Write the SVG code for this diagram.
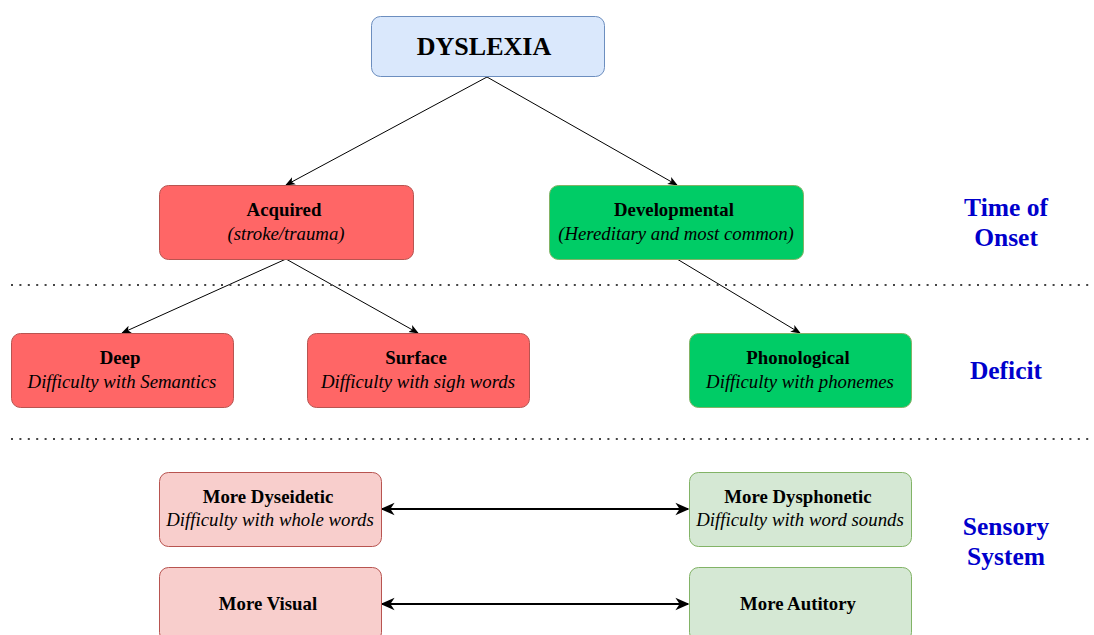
<svg xmlns="http://www.w3.org/2000/svg" width="1094" height="635" viewBox="0 0 1094 635">
<defs>
<style>
.t{font-family:"Liberation Serif","Times New Roman",serif;font-size:18.8px;fill:#000;text-anchor:middle}
.b{font-weight:bold}
.i{font-style:italic}
.lbl{font-family:"Liberation Serif","Times New Roman",serif;font-size:25.5px;font-weight:bold;fill:#0000cc;text-anchor:middle}
.edge{stroke:#000;stroke-width:1;fill:none;marker-end:url(#ah)}
.dbl{stroke:#000;stroke-width:2;fill:none;marker-end:url(#ah2);marker-start:url(#ah2s)}
.sep{stroke:#444;stroke-width:2;stroke-dasharray:2 6.4;fill:none}
.blue{fill:#dae8fc;stroke:#6c8ebf}
.red{fill:#ff6666;stroke:#b85450}
.green{fill:#00cc66;stroke:#82b366}
.lred{fill:#f8cecc;stroke:#b85450}
.lgreen{fill:#d5e8d4;stroke:#82b366}
</style>
<marker id="ah" viewBox="0 0 10 10" refX="9" refY="5" markerWidth="10" markerHeight="10" markerUnits="userSpaceOnUse" orient="auto">
<path d="M0,1 L10,5 L0,9 L2.5,5 Z" fill="#000"/>
</marker>
<marker id="ah2" viewBox="0 0 10 10" refX="9" refY="5" markerWidth="7" markerHeight="7" orient="auto">
<path d="M0,0.5 L10,5 L0,9.5 L3,5 Z" fill="#000"/>
</marker>
<marker id="ah2s" viewBox="0 0 10 10" refX="1" refY="5" markerWidth="7" markerHeight="7" orient="auto">
<path d="M10,0.5 L0,5 L10,9.5 L7,5 Z" fill="#000"/>
</marker>
</defs>

<g id="connectors">
<line class="edge" x1="487" y1="77" x2="286" y2="185"/>
<line class="edge" x1="487" y1="77" x2="677" y2="185"/>
<line class="edge" x1="286" y1="259" x2="122" y2="333"/>
<line class="edge" x1="286" y1="259" x2="418" y2="333"/>
<line class="edge" x1="677" y1="259" x2="800" y2="333"/>
<line class="dbl" x1="382" y1="509" x2="688" y2="509"/>
<line class="dbl" x1="382" y1="604" x2="688" y2="604"/>
</g>

<g id="separators">
<line class="sep" x1="11" y1="285" x2="1092" y2="285"/>
<line class="sep" x1="11" y1="439" x2="1092" y2="439"/>
</g>

<g id="dyslexia">
<rect class="blue" x="371.5" y="16.5" width="233" height="60" rx="9"/>
<text class="t b" x="484" y="55" style="font-size:26px">DYSLEXIA</text>
</g>

<g id="acquired">
<rect class="red" x="159.5" y="185.5" width="254" height="74" rx="9"/>
<text class="t b" x="284" y="216">Acquired</text>
<text class="t i" x="286" y="240">(stroke/trauma)</text>
</g>

<g id="developmental">
<rect class="green" x="549.5" y="185.5" width="254" height="74" rx="9"/>
<text class="t b" x="674" y="216">Developmental</text>
<text class="t i" x="676" y="240">(Hereditary and most common)</text>
</g>

<g id="deep">
<rect class="red" x="11.5" y="333.5" width="222" height="74" rx="9"/>
<text class="t b" x="120" y="364">Deep</text>
<text class="t i" x="122" y="388">Difficulty with Semantics</text>
</g>

<g id="surface">
<rect class="red" x="307.5" y="333.5" width="222" height="74" rx="9"/>
<text class="t b" x="416" y="364">Surface</text>
<text class="t i" x="418" y="388">Difficulty with sigh words</text>
</g>

<g id="phonological">
<rect class="green" x="689.5" y="333.5" width="222" height="74" rx="9"/>
<text class="t b" x="798" y="364">Phonological</text>
<text class="t i" x="800" y="388">Difficulty with phonemes</text>
</g>

<g id="dyseidetic">
<rect class="lred" x="159.5" y="472.5" width="222" height="74" rx="9"/>
<text class="t b" x="268" y="503">More Dyseidetic</text>
<text class="t i" x="270" y="526">Difficulty with whole words</text>
</g>

<g id="dysphonetic">
<rect class="lgreen" x="689.5" y="472.5" width="222" height="74" rx="9"/>
<text class="t b" x="798" y="503">More Dysphonetic</text>
<text class="t i" x="800" y="526">Difficulty with word sounds</text>
</g>

<g id="visual">
<rect class="lred" x="159.5" y="567.5" width="222" height="74" rx="9"/>
<text class="t b" x="268" y="610">More Visual</text>
</g>

<g id="auditory">
<rect class="lgreen" x="689.5" y="567.5" width="222" height="74" rx="9"/>
<text class="t b" x="798" y="610">More Autitory</text>
</g>

<g id="labels">
<text class="lbl" x="1006" y="216">Time of</text>
<text class="lbl" x="1006" y="246">Onset</text>
<text class="lbl" x="1006" y="379">Deficit</text>
<text class="lbl" x="1006" y="535">Sensory</text>
<text class="lbl" x="1006" y="565">System</text>
</g>
</svg>
